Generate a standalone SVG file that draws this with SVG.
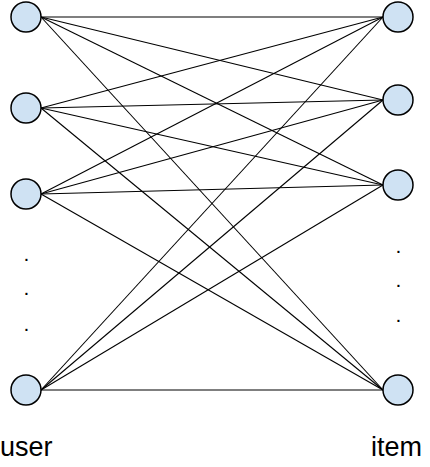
<svg xmlns="http://www.w3.org/2000/svg" width="430" height="467" viewBox="0 0 430 467">
<style>
.n{fill:#cfe2f3;stroke:#000;stroke-width:1.5}
.e{stroke:#000;stroke-width:1.1;fill:none}
.t{font-family:"Liberation Sans",Arial,sans-serif;font-size:27px;fill:#000}
.d{font-family:"Liberation Sans",Arial,sans-serif;font-size:21px;fill:#000}
</style>
<rect width="430" height="467" fill="#fff"/>
<g id="edges">
<line class="e" x1="41" y1="17" x2="383" y2="17"/>
<line class="e" x1="41" y1="17" x2="383" y2="100"/>
<line class="e" x1="41" y1="17" x2="383" y2="185"/>
<line class="e" x1="41" y1="17" x2="383" y2="390"/>
<line class="e" x1="41" y1="108" x2="383" y2="17"/>
<line class="e" x1="41" y1="108" x2="383" y2="100"/>
<line class="e" x1="41" y1="108" x2="383" y2="185"/>
<line class="e" x1="41" y1="108" x2="383" y2="390"/>
<line class="e" x1="41" y1="194" x2="383" y2="17"/>
<line class="e" x1="41" y1="194" x2="383" y2="100"/>
<line class="e" x1="41" y1="194" x2="383" y2="185"/>
<line class="e" x1="41" y1="194" x2="383" y2="390"/>
<line class="e" x1="41" y1="390" x2="383" y2="17"/>
<line class="e" x1="41" y1="390" x2="383" y2="100"/>
<line class="e" x1="41" y1="390" x2="383" y2="185"/>
<line class="e" x1="41" y1="390" x2="383" y2="390"/>
</g>
<g id="user1"><circle class="n" cx="26" cy="17" r="15"/></g>
<g id="user2"><circle class="n" cx="26" cy="108" r="15"/></g>
<g id="user3"><circle class="n" cx="26" cy="194" r="15"/></g>
<g id="user4"><circle class="n" cx="26" cy="390" r="15"/></g>
<g id="item1"><circle class="n" cx="398" cy="17" r="15"/></g>
<g id="item2"><circle class="n" cx="398" cy="100" r="15"/></g>
<g id="item3"><circle class="n" cx="398" cy="185" r="15"/></g>
<g id="item4"><circle class="n" cx="398" cy="390" r="15"/></g>
<g id="user-dots">
<text class="d" x="23.5" y="261">.</text>
<text class="d" x="23.5" y="295">.</text>
<text class="d" x="23.5" y="331">.</text>
</g>
<g id="item-dots">
<text class="d" x="395.5" y="253">.</text>
<text class="d" x="395.5" y="287">.</text>
<text class="d" x="395.5" y="322">.</text>
</g>
<text class="t" x="0" y="456">user</text>
<text class="t" x="371" y="456">item</text>
</svg>
